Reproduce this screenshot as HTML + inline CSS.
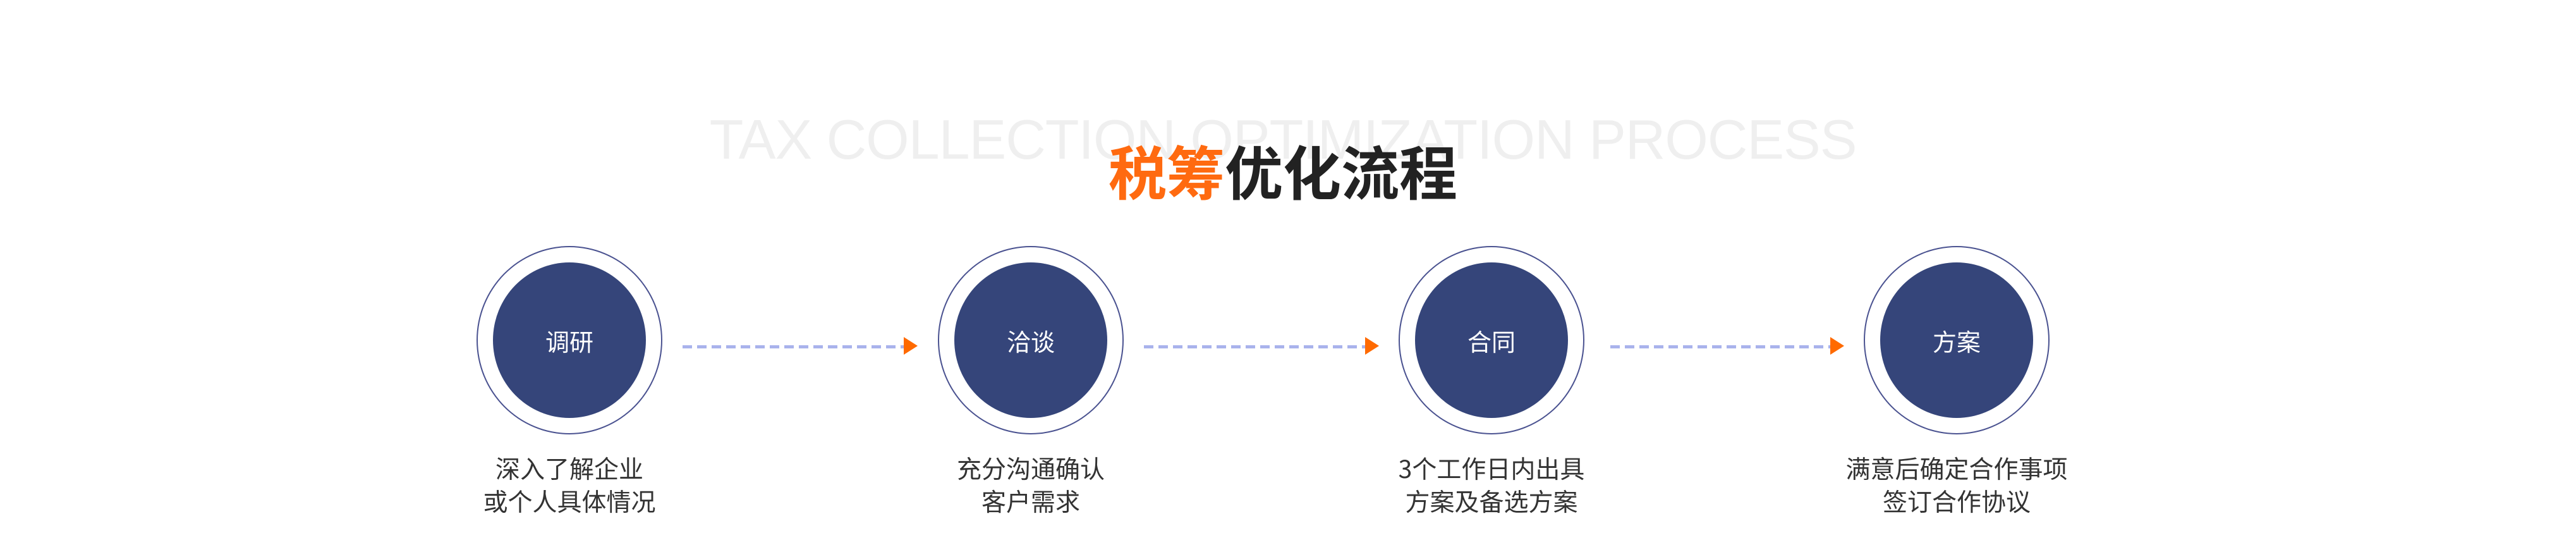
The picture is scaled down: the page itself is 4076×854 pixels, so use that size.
<!DOCTYPE html>
<html><head><meta charset="utf-8"><style>
html,body{margin:0;padding:0;background:#fff;width:4076px;height:854px;overflow:hidden;position:relative;font-family:"Liberation Sans","Noto Sans CJK SC",sans-serif}
.en{position:absolute;left:0;width:4060px;top:170px;text-align:center;font-size:88px;color:#efefef;white-space:nowrap;letter-spacing:-1px}
.cn{position:absolute;left:0;width:4060px;top:214px;text-align:center;font-size:92px;font-weight:bold;color:#222;font-family:"Noto Sans CJK SC",sans-serif;line-height:110px}
.cn span{color:#ff6a10}
.c{position:absolute;width:294px;height:298px;border:2px solid #4a5290;border-radius:50%;box-sizing:border-box}
.c div{position:absolute;left:24px;top:24px;width:242px;height:246px;border-radius:50%;background:#35457a;color:#fff;font-size:38px;display:flex;align-items:center;justify-content:center;font-family:"Noto Sans CJK SC",sans-serif}
.t{position:absolute;width:600px;text-align:center;font-size:39px;line-height:52px;color:#333;top:714px;font-family:"Noto Sans CJK SC",sans-serif}
.l{position:absolute;top:546px;height:5px;background:repeating-linear-gradient(90deg,#a9b3ec 0 15px,transparent 15px 23px)}
.a{position:absolute;top:533px;width:0;height:0;border-top:14px solid transparent;border-bottom:14px solid transparent;border-left:22px solid #ff6a00}
</style></head><body>
<div class="en">TAX COLLECTION OPTIMIZATION PROCESS</div>
<div class="cn"><span>税筹</span>优化流程</div>

<div class="c" style="left:754px;top:389px"><div>调研</div></div>
<div class="c" style="left:1484px;top:389px"><div>洽谈</div></div>
<div class="c" style="left:2213px;top:389px"><div>合同</div></div>
<div class="c" style="left:2949px;top:389px"><div>方案</div></div>

<div class="l" style="left:1080px;width:350px"></div><div class="a" style="left:1430px"></div>
<div class="l" style="left:1810px;width:352px"></div><div class="a" style="left:2160px"></div>
<div class="l" style="left:2548px;width:348px"></div><div class="a" style="left:2896px"></div>

<div class="t" style="left:601px">深入了解企业<br>或个人具体情况</div>
<div class="t" style="left:1331px">充分沟通确认<br>客户需求</div>
<div class="t" style="left:2060px">3个工作日内出具<br>方案及备选方案</div>
<div class="t" style="left:2796px">满意后确定合作事项<br>签订合作协议</div>
</body></html>
